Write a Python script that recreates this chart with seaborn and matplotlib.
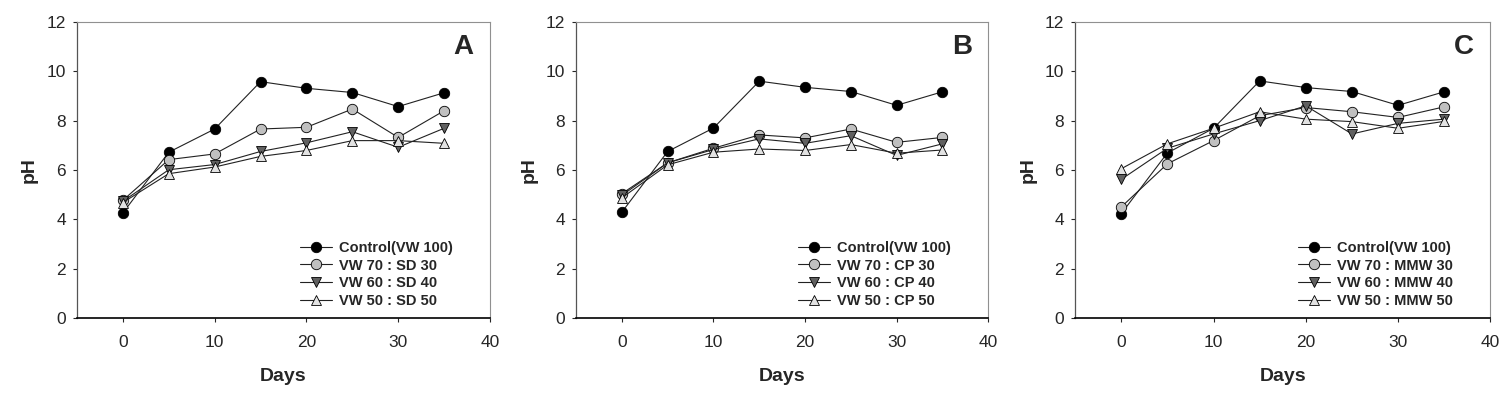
import matplotlib
matplotlib.use("Agg")
import matplotlib.pyplot as plt
import numpy as np
import pandas as pd
import seaborn as sns

days = [0, 5, 10, 15, 20, 25, 30, 35]

# panel A: sawdust
a_control = [4.26, 6.72, 7.66, 9.58, 9.31, 9.14, 8.57, 9.13]
a_sd30 = [4.77, 6.42, 6.65, 7.66, 7.73, 8.47, 7.32, 8.40]
a_sd40 = [4.73, 6.01, 6.22, 6.75, 7.10, 7.55, 6.92, 7.69]
a_sd50 = [4.68, 5.85, 6.12, 6.55, 6.79, 7.19, 7.19, 7.08]

# panel B: CP
b_control = [4.29, 6.75, 7.70, 9.60, 9.35, 9.18, 8.62, 9.17]
b_cp30 = [5.04, 6.29, 6.88, 7.42, 7.30, 7.66, 7.12, 7.32]
b_cp40 = [4.97, 6.29, 6.83, 7.26, 7.08, 7.39, 6.59, 7.06]
b_cp50 = [4.87, 6.21, 6.72, 6.85, 6.79, 7.03, 6.68, 6.81]

# panel C: MMW
c_control = [4.23, 6.69, 7.69, 9.61, 9.34, 9.18, 8.62, 9.17]
c_mmw30 = [4.50, 6.25, 7.19, 8.20, 8.53, 8.36, 8.13, 8.56]
c_mmw40 = [5.62, 6.88, 7.46, 8.00, 8.60, 7.46, 7.89, 8.06]
c_mmw50 = [6.05, 7.06, 7.69, 8.36, 8.06, 7.96, 7.69, 7.97]

panel_letters = ["A", "B", "C"]
mix_names = ["SD", "CP", "MMW"]
ratios = [(70, 30), (60, 40), (50, 50)]

panels = [
    [a_control, a_sd30, a_sd40, a_sd50],
    [b_control, b_cp30, b_cp40, b_cp50],
    [c_control, c_mmw30, c_mmw40, c_mmw50],
]

markers = ["o", "o", "v", "^"]
face_colors = ["#000000", "#c0c0c0", "#606060", "#e2e2e2"]

sns.set_style("white")
plt.rcParams["font.family"] = ["Liberation Sans", "DejaVu Sans"]

fig = plt.figure(figsize=(15.1, 3.99), dpi=100)
lefts = [0.051, 0.3815, 0.712]
widths = [0.2735, 0.273, 0.275]

for i, series in enumerate(panels):
    ax = fig.add_axes([lefts[i], 0.203, widths[i], 0.742])
    labels = ["Control(VW 100)"] + [
        f"VW {v} : {mix_names[i]} {m}" for v, m in ratios
    ]
    for vals, lab, mk, fc in zip(series, labels, markers, face_colors):
        df = pd.DataFrame({"Days": days, "pH": vals})
        sns.lineplot(
            data=df, x="Days", y="pH", ax=ax, label=lab,
            color="#222222", linewidth=0.8, marker=mk, markersize=7.5,
            markerfacecolor=fc, markeredgecolor="black", markeredgewidth=0.6,
        )
    ax.set_xlim(-5, 40)
    ax.set_ylim(0, 12)
    ax.set_xticks([0, 10, 20, 30, 40])
    ax.set_yticks([0, 2, 4, 6, 8, 10, 12])
    ax.tick_params(axis="both", labelsize=12.5, direction="out", length=3,
                   width=0.8, left=True, bottom=True)
    ax.tick_params(axis="x", pad=9)
    ax.tick_params(axis="y", pad=5)
    ax.set_xlabel("Days", fontsize=14, fontweight="bold", labelpad=13)
    ax.set_ylabel("pH", fontsize=14, fontweight="bold", labelpad=6)
    ax.spines["bottom"].set_color("black")
    ax.spines["bottom"].set_linewidth(1.2)
    ax.spines["left"].set_color("#555555")
    ax.spines["left"].set_linewidth(0.9)
    for side in ["top", "right"]:
        ax.spines[side].set_color("#909090")
        ax.spines[side].set_linewidth(0.8)
    ax.text(37.1, 11.0, panel_letters[i], fontsize=20, fontweight="bold",
            ha="center", va="center")
    ax.legend(loc="lower right", bbox_to_anchor=(0.935, 0.0), frameon=False,
              prop={"weight": "bold", "size": 10.5}, handlelength=2.2,
              labelspacing=0.25, handletextpad=0.5, borderpad=0.2)

fig.savefig("out.png", dpi=100)
